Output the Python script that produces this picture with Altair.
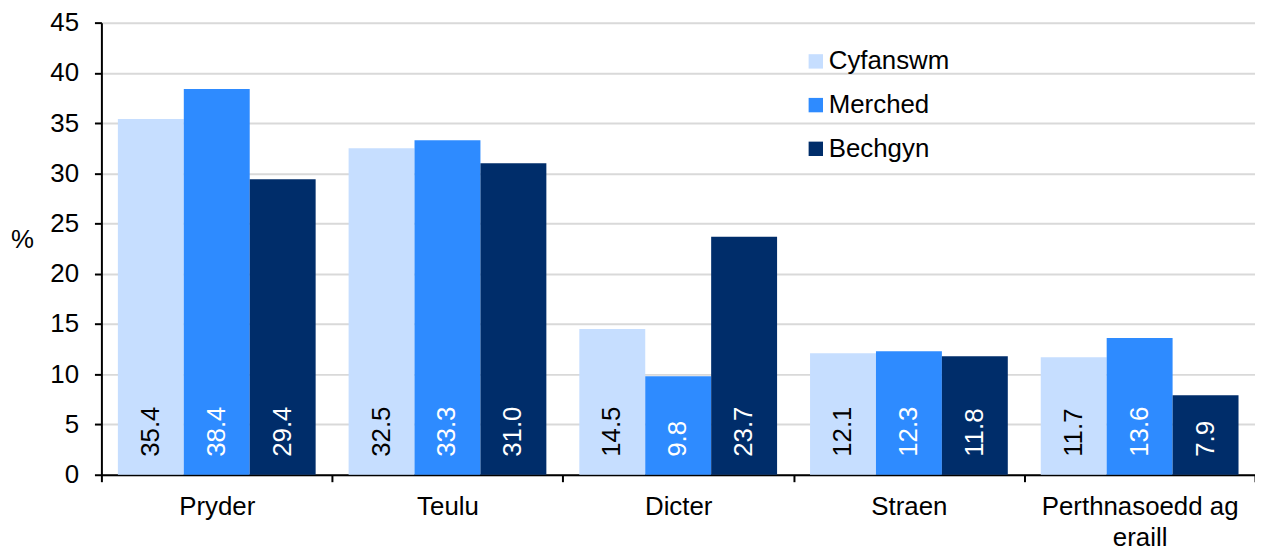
import altair as alt
import pandas as pd

categories = ["Pryder", "Teulu", "Dicter", "Straen", "Perthnasoedd ag eraill"]
series = ["Cyfanswm", "Merched", "Bechgyn"]
cyfanswm = [35.4, 32.5, 14.5, 12.1, 11.7]
merched = [38.4, 33.3, 9.8, 12.3, 13.6]
bechgyn = [29.4, 31.0, 23.7, 11.8, 7.9]
colors = ["#C6DEFF", "#2E8BFF", "#002D6A"]
text_colors = ["#000000", "#FFFFFF", "#FFFFFF"]

rows = []
for s, vals, tc in zip(series, [cyfanswm, merched, bechgyn], text_colors):
    for c, v in zip(categories, vals):
        rows.append({"cat": c, "series": s, "value": v, "label": f"{v:.1f}", "tcolor": tc})
df = pd.DataFrame(rows)

FONT = "Liberation Sans"
FS = 26

x = alt.X(
    "cat:N",
    sort=categories,
    scale=alt.Scale(paddingInner=0, paddingOuter=0),
    axis=alt.Axis(
        title=None,
        tickBand="extent",
        labelAngle=0,
        labelFontSize=FS,
        labelFont=FONT,
        labelColor="#000000",
        labelPadding=12,
        labelLimit=0,
        tickSize=7,
        tickColor="#000000",
        tickWidth=2,
        domainColor="#000000",
        domainWidth=2,
        grid=False,
        labelExpr="datum.value == 'Perthnasoedd ag eraill' ? ['Perthnasoedd ag', 'eraill'] : datum.value",
        labelLineHeight=31,
    ),
)
xoff = alt.XOffset("series:N", sort=series, scale=alt.Scale(paddingInner=0, paddingOuter=0.25))
y = alt.Y(
    "value:Q",
    scale=alt.Scale(domain=[0, 45], nice=False),
    axis=alt.Axis(
        title="%",
        titleAngle=0,
        titleFontSize=FS,
        titleFont=FONT,
        titleFontWeight="normal",
        titleX=-80,
        titleY=218,
        titleAlign="center",
        titleBaseline="middle",
        values=list(range(0, 50, 5)),
        labelFontSize=FS,
        labelFont=FONT,
        labelColor="#000000",
        labelPadding=16,
        tickSize=7,
        tickColor="#000000",
        tickWidth=2,
        domainColor="#000000",
        domainWidth=2,
        grid=True,
        gridColor="#D9D9D9",
        gridWidth=2,
    ),
)

bars = alt.Chart(df).mark_bar(cornerRadius=0).encode(
    x=x,
    xOffset=xoff,
    y=y,
    color=alt.Color(
        "series:N",
        sort=series,
        scale=alt.Scale(domain=series, range=colors),
        legend=alt.Legend(
            title=None,
            orient="none",
            legendX=706,
            legendY=26,
            symbolType="square",
            symbolSize=210,
            symbolStrokeWidth=0,
            labelFontSize=FS,
            labelFont=FONT,
            labelColor="#000000",
            rowPadding=18,
            labelOffset=0,
        ),
    ),
)

labels = alt.Chart(df).mark_text(
    angle=270, align="left", baseline="middle", fontSize=FS, font=FONT, dx=18
).encode(
    x=alt.X("cat:N", sort=categories),
    xOffset=alt.XOffset("series:N", sort=series),
    y=alt.datum(0),
    text="label:N",
    color=alt.Color("tcolor:N", scale=None),
)

chart = (
    alt.layer(bars, labels)
    .properties(
        width=1161,
        height=455,
        autosize=alt.AutoSizeParams(type="none"),
        padding={"left": 94, "top": 13, "right": 0, "bottom": 72},
    )
    .configure_view(stroke=None)
)

chart.save("out.html", embed_options={"renderer": "svg", "actions": False})
